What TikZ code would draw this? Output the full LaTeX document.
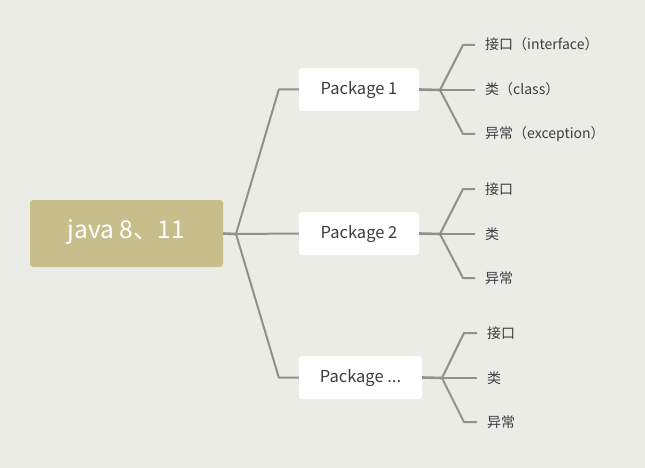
\documentclass[tikz,border=0pt]{standalone}
\usepackage{fontspec}
\setmainfont{Noto Sans CJK SC}
\usetikzlibrary{calc}
\definecolor{bgcol}{HTML}{ECECE7}
\definecolor{rootcol}{HTML}{C8BE8C}
\definecolor{linecol}{HTML}{8F918C}
\definecolor{txtcol}{HTML}{3A3D41}
\tikzset{
  rootbox/.style={fill=rootcol, rounded corners=3pt, minimum width=193pt, minimum height=67pt,
    text=white, text height=1em, text depth=0pt, font=\fontsize{24.5}{28}\selectfont},
  pkgbox/.style={fill=white, rounded corners=3pt, minimum width=120pt, minimum height=43pt,
    text=txtcol, text height=1em, text depth=0pt, font=\fontsize{16.5}{19}\selectfont},
  leaf/.style={anchor=west, inner xsep=10pt, inner ysep=0pt, text=txtcol,
    text height=1em, text depth=0pt, font=\fontsize{14}{16}\selectfont},
  branch/.style={draw=linecol, line width=2pt},
  stub/.style={draw=linecol, line width=2.6pt}
}

\begin{document}
\begin{tikzpicture}[x=1pt,y=-1pt]
  \fill[bgcol] (0,0) rectangle (645,468);
  \useasboundingbox (0,0) rectangle (645,468);

  % root and packages
  \node[rootbox] (root) at (126.5,233.5) {java 8、11};
  \node[pkgbox] (p1) at (359,89.5) {Package 1};
  \node[pkgbox] (p2) at (359,233.5) {Package 2};
  \node[pkgbox, minimum width=123pt] (p3) at (360.5,377.5) {Package ...};

  % leaves
  \node[leaf] (l11) at (475,45) {接口（interface）};
  \node[leaf] (l12) at (475,90) {类（class）};
  \node[leaf] (l13) at (475,134) {异常（exception）};
  \node[leaf] (l21) at (475,189) {接口};
  \node[leaf] (l22) at (475,234) {类};
  \node[leaf] (l23) at (475,278) {异常};
  \node[leaf] (l31) at (477,333) {接口};
  \node[leaf] (l32) at (477,378) {类};
  \node[leaf] (l33) at (477,422) {异常};

  % junctions
  \coordinate (rj) at (236,234);
  \coordinate (j1) at (440,90);
  \coordinate (j2) at (440,234);
  \coordinate (j3) at (442,378);

  % root branches
  \draw[stub] (root.east) -- (rj);
  \draw[branch, line join=round] (rj) -- ($(p1.west)+(-20,0)$) -- (p1.west);
  \draw[branch] (rj) -- (p2.west);
  \draw[branch, line join=round] (rj) -- ($(p3.west)+(-20,0)$) -- (p3.west);

  % package branches
  \draw[stub] (p1.east) -- (j1);
  \draw[branch, line join=round] (j1) -- ($(l11.west)+(-12,0)$) -- (l11.west);
  \draw[branch] (j1) -- (l12.west);
  \draw[branch, line join=round] (j1) -- ($(l13.west)+(-12,0)$) -- (l13.west);

  \draw[stub] (p2.east) -- (j2);
  \draw[branch, line join=round] (j2) -- ($(l21.west)+(-12,0)$) -- (l21.west);
  \draw[branch] (j2) -- (l22.west);
  \draw[branch, line join=round] (j2) -- ($(l23.west)+(-12,0)$) -- (l23.west);

  \draw[stub] (p3.east) -- (j3);
  \draw[branch, line join=round] (j3) -- ($(l31.west)+(-13,0)$) -- (l31.west);
  \draw[branch] (j3) -- (l32.west);
  \draw[branch, line join=round] (j3) -- ($(l33.west)+(-13,0)$) -- (l33.west);
\end{tikzpicture}
\end{document}
